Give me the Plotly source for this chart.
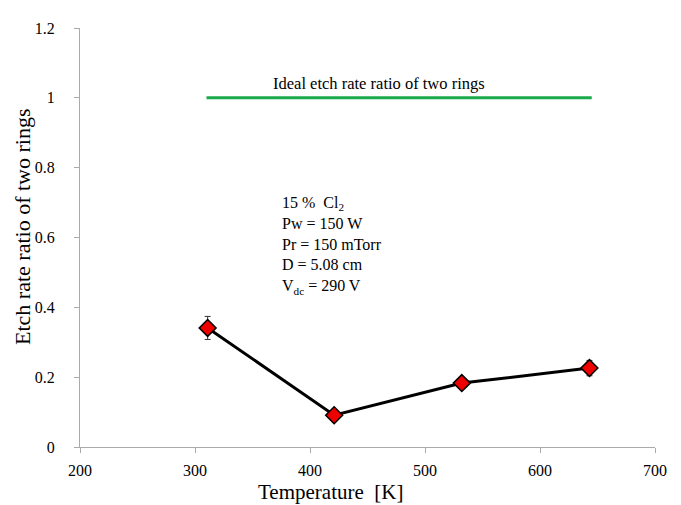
import plotly.graph_objects as go

temperature = [311, 421, 532, 643]
ratio = [0.341, 0.091, 0.183, 0.226]
ratio_err = [0.033, 0.01, 0.01, 0.022]

ideal_x = [310, 645]
ideal_y = [1.0, 1.0]

x_ticks = [200, 300, 400, 500, 600, 700]
y_ticks = [0, 0.2, 0.4, 0.6, 0.8, 1.0, 1.2]
y_ticklabels = ["0", "0.2", "0.4", "0.6", "0.8", "1", "1.2"]

font_family = "Liberation Serif"

fig = go.Figure()
fig.add_trace(go.Scatter(
    x=ideal_x, y=ideal_y, mode="lines",
    line=dict(color="#1aaa4a", width=3), showlegend=False, hoverinfo="skip"))
fig.add_trace(go.Scatter(
    x=temperature, y=ratio, mode="lines+markers",
    line=dict(color="black", width=3),
    marker=dict(symbol="diamond", size=13, color="#ee0000",
                line=dict(color="black", width=1.5)),
    error_y=dict(type="data", array=ratio_err, color="#333333", thickness=1, width=3),
    showlegend=False))

fig.add_annotation(x=366, y=1.04, xref="x", yref="y", text="Ideal etch rate ratio of two rings",
                   showarrow=False, xanchor="left", yanchor="middle",
                   font=dict(family=font_family, size=16.5, color="black"))
fig.add_annotation(x=374, y=0.73, xref="x", yref="y",
                   text="15 %  Cl<sub>2</sub><br>Pw = 150 W<br>Pr = 150 mTorr<br>D = 5.08 cm<br>V<sub>dc</sub> = 290 V",
                   showarrow=False, xanchor="left", yanchor="top", align="left",
                   font=dict(family=font_family, size=16, color="black"))
fig.add_annotation(x=418, y=-0.108, xref="x", yref="paper", text="Temperature  [K]",
                   showarrow=False, xanchor="center", yanchor="middle",
                   font=dict(family=font_family, size=21, color="black"))
fig.add_annotation(x=-0.101, y=0.525, xref="paper", yref="paper", text="Etch rate ratio of two rings",
                   showarrow=False, xanchor="center", yanchor="middle", textangle=-90,
                   font=dict(family=font_family, size=22, color="black"))

fig.update_layout(
    width=681, height=505,
    margin=dict(l=72, r=34, t=12, b=66),
    paper_bgcolor="white", plot_bgcolor="white",
    font=dict(family=font_family, size=14, color="black"),
    xaxis=dict(range=[200, 700], tickvals=x_ticks, showgrid=False, zeroline=False,
               showline=True, linecolor="#aaaaaa", linewidth=1,
               ticks="outside", tickcolor="#aaaaaa", ticklen=5,
               ticklabelstandoff=4,
               tickfont=dict(family=font_family, size=16)),
    yaxis=dict(range=[0, 1.2], tickvals=y_ticks, ticktext=y_ticklabels, showgrid=False,
               zeroline=False, showline=True, linecolor="#aaaaaa", linewidth=1,
               ticks="outside", tickcolor="#aaaaaa", ticklen=5,
               ticklabelstandoff=16,
               tickfont=dict(family=font_family, size=16)),
)

fig.write_html("out.html")
